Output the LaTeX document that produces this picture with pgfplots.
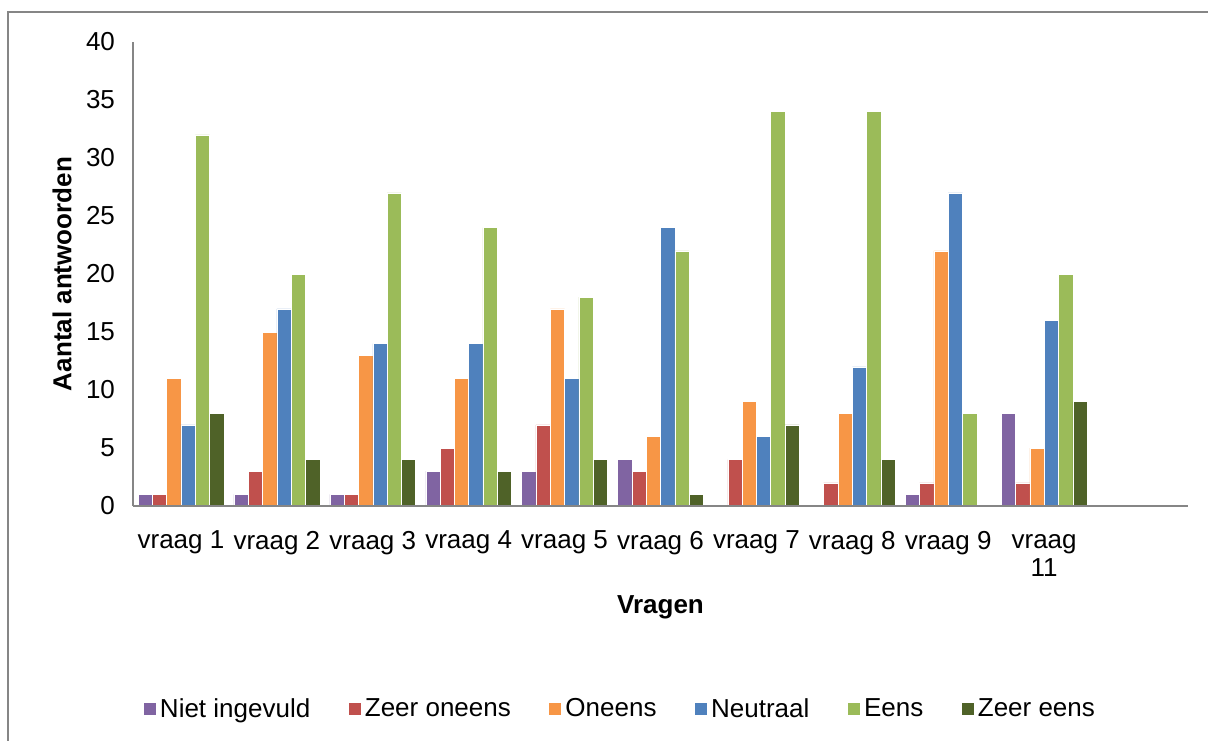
\documentclass[border=0pt]{standalone}
\usepackage{fontspec}
\setmainfont{Liberation Sans}
\usepackage{pgfplots}
\pgfplotsset{compat=1.18}
\definecolor{cpurple}{HTML}{8064A2}
\definecolor{cred}{HTML}{C0504D}
\definecolor{corange}{HTML}{F79646}
\definecolor{cblue}{HTML}{4F81BD}
\definecolor{cgreen}{HTML}{9BBB59}
\definecolor{cdgreen}{HTML}{4F6228}
\definecolor{axgray}{HTML}{868686}
\begin{document}
\begin{tikzpicture}
\path[use as bounding box] (0,0) rectangle (604pt,-370pt);
\draw[color=axgray, line width=1pt] (4pt,-6pt) rectangle (620pt,-385pt);
\begin{axis}[
  at={(66.5pt,-253pt)}, anchor=south west,
  scale only axis, width=527.5pt, height=232pt,
  xmin=-0.5, xmax=10.5, ymin=0, ymax=40,
  axis x line=bottom, axis y line=left,
  axis line style={-, draw=axgray, line width=0.8pt},
  axis on top,
  ytick={0,5,...,40},
  xtick={0,...,9},
  xticklabels={vraag 1,vraag 2,vraag 3,vraag 4,vraag 5,vraag 6,vraag 7,vraag 8,vraag 9,{\vphantom{1}vraag\\11}},
  major tick length=0pt,
  /pgf/number format/assume math mode=true,
  xticklabel style={font=\fontsize{13}{14}\selectfont, align=center, yshift=-9pt},
  yticklabel style={font=\fontsize{13}{14}\selectfont, xshift=-5.5pt},
  xlabel={Vragen},
  ylabel={Aantal antwoorden},
  label style={font=\fontsize{13}{15}\selectfont\bfseries},
  xlabel style={at={(axis description cs:0.5,-0.218)}, anchor=center},
  ylabel style={at={(axis description cs:-0.0673,0.5)}, anchor=center, rotate=0},
  ybar=0pt, bar width=7.15pt,
  every axis plot/.append style={draw=white, line width=0.25pt},
  legend columns=6,
  legend style={at={(axis description cs:0.463,-0.438)}, anchor=center, draw=none,
    font=\fontsize{13}{15}\selectfont, /tikz/every even column/.append style={column sep=17.3pt}},
  legend image code/.code={\fill[#1,draw=none] (-1.5pt,-3pt) rectangle (4.5pt,3pt);},
]
\addplot[fill=cpurple] coordinates {(0,1) (1,1) (2,1) (3,3) (4,3) (5,4) (8,1) (9,8)};
\addlegendentry{Niet ingevuld}
\addplot[fill=cred] coordinates {(0,1) (1,3) (2,1) (3,5) (4,7) (5,3) (6,4) (7,2) (8,2) (9,2)};
\addlegendentry{Zeer oneens}
\addplot[fill=corange] coordinates {(0,11) (1,15) (2,13) (3,11) (4,17) (5,6) (6,9) (7,8) (8,22) (9,5)};
\addlegendentry{Oneens}
\addplot[fill=cblue] coordinates {(0,7) (1,17) (2,14) (3,14) (4,11) (5,24) (6,6) (7,12) (8,27) (9,16)};
\addlegendentry{Neutraal}
\addplot[fill=cgreen] coordinates {(0,32) (1,20) (2,27) (3,24) (4,18) (5,22) (6,34) (7,34) (8,8) (9,20)};
\addlegendentry{Eens}
\addplot[fill=cdgreen] coordinates {(0,8) (1,4) (2,4) (3,3) (4,4) (5,1) (6,7) (7,4) (9,9)};
\addlegendentry{Zeer eens}
\end{axis}
\end{tikzpicture}
\end{document}
